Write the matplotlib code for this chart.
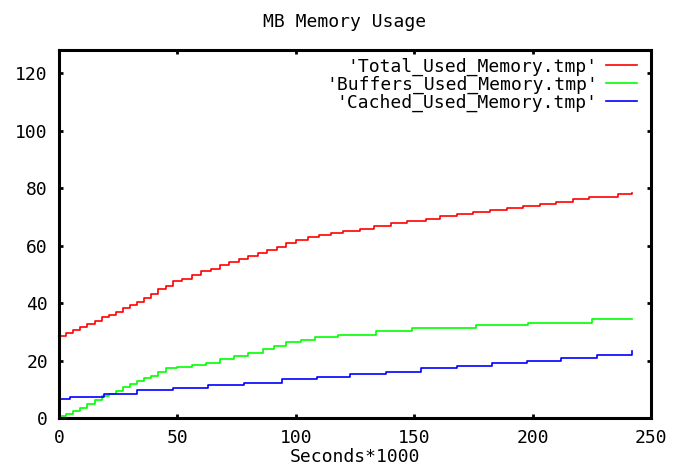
import matplotlib
matplotlib.use('Agg')
import matplotlib.pyplot as plt

# step breakpoints (x = Seconds*1000, y = MB)
total_x = [0, 3, 6, 9, 12, 15, 18, 21, 24, 27, 30, 33, 36, 39, 42, 45, 48, 52, 56, 60,
           64, 68, 72, 76, 80, 84, 88, 92, 96, 100, 105, 110, 115, 120, 127, 133, 140,
           147, 155, 161, 168, 175, 182, 189, 196, 203, 210, 217, 224, 232, 236, 242]
total_y = [28.5, 29.5, 30.5, 31.5, 32.7, 33.8, 35, 36, 37, 38.3, 39.3, 40.5, 41.8, 43,
           45, 46, 47.5, 48.5, 49.7, 51, 52, 53.3, 54.3, 55.3, 56.5, 57.5, 58.5, 59.5,
           60.8, 62, 62.8, 63.5, 64.2, 65, 65.7, 66.8, 67.7, 68.5, 69.3, 70.3, 71, 71.8,
           72.5, 73, 73.7, 74.4, 75, 76.2, 76.7, 77, 77.9, 78.3]

buffers_x = [0, 3, 6, 9, 12, 15, 18, 21, 24, 27, 30, 33, 36, 39, 42, 45, 50, 56, 62,
             68, 74, 80, 86, 91, 96, 102, 108, 118, 134, 149, 176, 198, 225, 242]
buffers_y = [0.7, 1.5, 2.5, 3.5, 4.9, 6.2, 7.5, 8.5, 9.5, 10.8, 12, 12.8, 13.8, 14.6,
             16, 17.4, 17.8, 18.3, 19.3, 20.5, 21.5, 22.5, 24, 25.2, 26.5, 27.1, 28.2,
             29, 30.4, 31.3, 32.3, 33, 34.4, 34.4]

cached_x = [0, 4.6, 19, 33, 48, 63, 78, 94, 109, 123, 138, 153, 168, 183, 197.6,
            212, 227, 242]
cached_y = [6.6, 7.2, 8.4, 9.7, 10.4, 11.5, 12.2, 13.6, 14.3, 15.3, 16, 17.4, 18.1,
            19.1, 19.8, 20.9, 21.9, 23.3]

labels = ["'Total_Used_Memory.tmp'", "'Buffers_Used_Memory.tmp'",
          "'Cached_Used_Memory.tmp'"]
colors = ['#ff0000', '#00ff00', '#0000ff']

plt.rcParams['font.family'] = ['DejaVu Sans Mono', 'DejaVu Sans']

fig = plt.figure(figsize=(6.9, 4.75), dpi=100)
ax = fig.add_axes([0.0855, 0.12, 0.858, 0.7747])

for xs, ys, c, lab in zip([total_x, buffers_x, cached_x],
                          [total_y, buffers_y, cached_y], colors, labels):
    ax.plot(xs, ys, color=c, lw=1.2, drawstyle='steps-post', label=lab)

ax.set_xlim(0, 250)
ax.set_ylim(0, 128)
ax.set_xticks([0, 50, 100, 150, 200, 250])
ax.set_yticks([0, 20, 40, 60, 80, 100, 120])
ax.tick_params(direction='in', length=3, width=2, top=True, right=True,
               labelsize=13, pad=8)
for s in ax.spines.values():
    s.set_linewidth(2.2)

ax.set_xlabel('Seconds*1000', fontsize=13, labelpad=1)
fig.text(0.5, 0.954, 'MB Memory Usage', ha='center', va='center', fontsize=13)

ax.legend(loc='upper right', bbox_to_anchor=(0.988, 1.0), frameon=False,
          markerfirst=False, fontsize=13, handlelength=1.7, handletextpad=0.45,
          labelspacing=0.0, borderaxespad=0.3, borderpad=0.1)

fig.savefig('out.png', dpi=100)
